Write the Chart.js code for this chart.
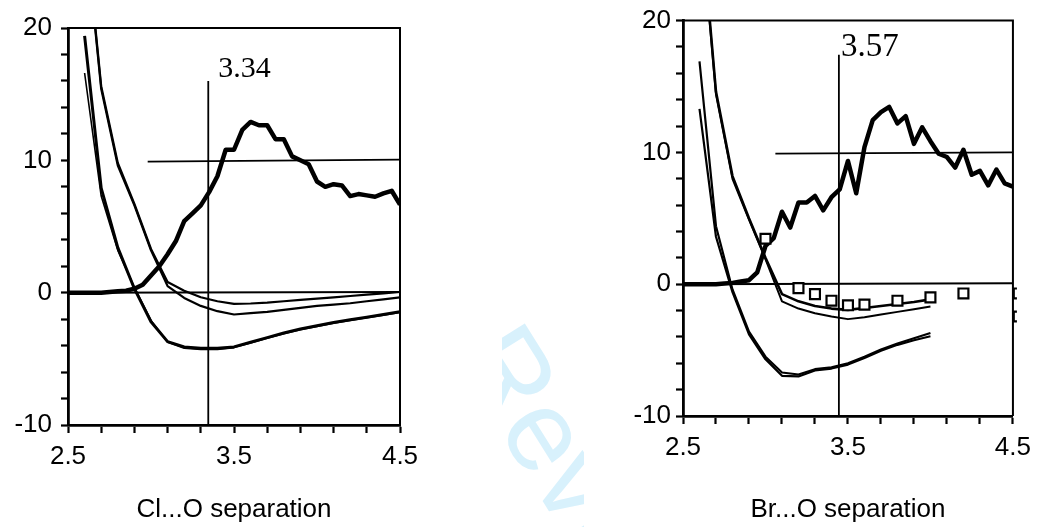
<!DOCTYPE html>
<html><head><meta charset="utf-8">
<script src="https://cdn.jsdelivr.net/npm/chart.js@4.4.1/dist/chart.umd.min.js"></script>
<style>
html,body{margin:0;padding:0;background:#fff;width:1039px;height:527px;overflow:hidden}
#c1{position:absolute;left:0;top:0}
#c2{position:absolute;left:520px;top:0}
#wm{position:absolute;left:502px;top:0;width:82px;height:527px;overflow:hidden}
#wm span{position:absolute;left:33px;top:306px;transform-origin:0 0;transform:rotate(58deg);font:115px "Liberation Sans",Arial,sans-serif;color:#d8f1fc;white-space:nowrap;line-height:1}
</style></head><body>
<div id="wm"><span>Review</span></div>
<canvas id="c1" width="520" height="527"></canvas>
<canvas id="c2" width="519" height="527"></canvas>
<script>
// ---------- data ----------
const xTickValues = [2.5,2.7,2.9,3.1,3.3,3.5,3.7,3.9,4.1,4.3,4.5];
const xLabelValues = [2.5,3.5,4.5];
const yTickValues = [-10,-8,-6,-4,-2,0,2,4,6,8,10,12,14,16,18,20];
const yLabelValues = [-10,0,10,20];

const xRdf = [2.50,2.55,2.60,2.65,2.70,2.75,2.80,2.85,2.90,2.95,3.00,3.05,3.10,3.15,3.20,3.25,3.30,3.35,3.40,3.45,3.50,3.55,3.60,3.65,3.70,3.75,3.80,3.85,3.90,3.95,4.00,4.05,4.10,4.15,4.20,4.25,4.30,4.35,4.40,4.45,4.50];
const clRdf = [0,0,0,0,0,0.05,0.1,0.15,0.3,0.6,1.3,2.0,2.9,3.9,5.4,6.0,6.6,7.6,8.8,10.8,10.8,12.3,12.9,12.65,12.65,11.6,11.6,10.3,10.0,9.7,8.4,8.0,8.2,8.1,7.3,7.45,7.35,7.25,7.5,7.7,6.65];
const brRdf = [0,0,0,0,0,0.05,0.1,0.2,0.3,0.9,2.9,3.5,5.5,4.3,6.2,6.2,6.7,5.6,6.6,7.2,9.35,6.9,10.4,12.45,13.05,13.45,12.2,12.75,10.65,11.9,10.85,9.9,9.65,8.85,10.2,8.3,8.6,7.5,8.7,7.65,7.4];

const xPotCl = [2.6,2.7,2.8,2.9,3.0,3.1,3.2,3.3,3.4,3.5,3.6,3.7,3.8,3.9,4.0,4.1,4.2,4.3,4.4,4.5];
const clPotA = [19.4,7.9,3.4,0.3,-2.2,-3.7,-4.1,-4.2,-4.2,-4.1,-3.75,-3.4,-3.05,-2.75,-2.5,-2.25,-2.05,-1.85,-1.65,-1.45];
const clPotB = [16.6,7.3,3.2,0.4,-2.1,-3.75,-4.2,-4.3,-4.3,-4.15,-3.8,-3.45,-3.1,-2.8,-2.55,-2.3,-2.1,-1.9,-1.7,-1.5];
const clPotC = [28.2,15.6,9.8,6.7,3.3,0.8,0.15,-0.35,-0.65,-0.85,-0.82,-0.75,-0.65,-0.55,-0.45,-0.35,-0.25,-0.15,-0.05,0.05];
const clPotD = [28.0,15.4,9.6,6.6,3.2,0.5,-0.4,-1.0,-1.4,-1.65,-1.55,-1.45,-1.3,-1.15,-1.0,-0.9,-0.8,-0.65,-0.5,-0.35];

const xPotBr = [2.6,2.7,2.8,2.9,3.0,3.1,3.2,3.3,3.4,3.5,3.6,3.7,3.8,3.9,4.0];
const brPotA = [16.9,4.4,-0.4,-3.6,-5.5,-6.7,-6.85,-6.45,-6.3,-6.0,-5.5,-4.95,-4.5,-4.1,-3.7];
const brPotB = [13.3,3.6,-0.6,-3.8,-5.7,-6.95,-7.0,-6.55,-6.4,-6.1,-5.6,-5.05,-4.6,-4.25,-3.95];
const brPotC = [29.0,14.6,8.2,5.0,2.0,-0.75,-1.3,-1.65,-1.85,-1.95,-1.8,-1.65,-1.5,-1.35,-1.15];
const brPotD = [28.8,14.4,8.0,4.9,1.9,-1.3,-1.85,-2.2,-2.45,-2.65,-2.5,-2.3,-2.1,-1.9,-1.7];

const brSqX = [3.0,3.2,3.3,3.4,3.5,3.6,3.8,4.0,4.2];
const brSqY = [3.45,-0.3,-0.75,-1.25,-1.6,-1.55,-1.25,-1.0,-0.7];
const brEdgeX = [4.535,4.535];
const brEdgeY = [-0.7,-2.45];

// reference lines
const clZeroX = [2.5,4.5], clZeroY = [0,0.05];
const clHX = [2.98,4.5], clHY = [9.9,10.05];
const clVX = [3.345,3.345], clVY = [-10,16];
const clMark = '3.34';
const brZeroX = [2.5,4.5], brZeroY = [0,0.08];
const brHX = [3.06,4.5], brHY = [9.9,10.0];
const brVX = [3.445,3.445], brVY = [-10,17.4];
const brMark = '3.57';

// ---------- helpers ----------
const pts = (xs, ys) => xs.map((x,i)=>({x:x, y:ys[i]}));
const near = (arr, v) => arr.some(a => Math.abs(a - v) < 1e-6);
const FONT = '"Liberation Sans", Arial, sans-serif';

const framePlugin = {
  id: 'frame',
  beforeDatasetsDraw(chart) {
    const a = chart.chartArea, ctx = chart.ctx;
    ctx.save();
    ctx.strokeStyle = '#000'; ctx.lineWidth = 2;
    ctx.beginPath();
    ctx.moveTo(a.left, a.top); ctx.lineTo(a.right, a.top); ctx.lineTo(a.right, a.bottom);
    ctx.stroke();
    ctx.restore();
  }
};
const markPlugin = {
  id: 'mark',
  afterDatasetsDraw(chart, args, o) {
    const ctx = chart.ctx;
    const px = chart.scales.x.getPixelForValue(o.x) + o.dx;
    const py = chart.scales.y.getPixelForValue(o.y) + o.dy;
    ctx.save();
    ctx.fillStyle = '#000';
    ctx.font = o.size + 'px "Liberation Serif", "Times New Roman", serif';
    ctx.textAlign = 'left'; ctx.textBaseline = 'alphabetic';
    ctx.fillText(o.text, px, py);
    ctx.restore();
  }
};

function line(data, w, clip) {
  return {data: data, showLine: true, borderColor: '#000', borderWidth: w, pointRadius: 0,
          tension: 0, fill: false, borderJoinStyle: 'round', clip: clip === undefined ? 0 : clip};
}

function makeChart(id, cfg) {
  return new Chart(document.getElementById(id), {
    type: 'scatter',
    data: {datasets: cfg.datasets},
    plugins: [framePlugin, markPlugin],
    options: {
      responsive: false, animation: false, devicePixelRatio: 1,
      layout: {padding: cfg.padding},
      plugins: {legend: {display: false}, tooltip: {enabled: false}, mark: cfg.mark},
      scales: {
        x: {
          type: 'linear', min: 2.5, max: 4.5,
          afterBuildTicks: s => { s.ticks = xTickValues.map(v => ({value: v})); },
          afterFit: s => { s.height = cfg.xH; },
          ticks: {autoSkip: false, maxRotation: 0, padding: 8, color: '#000',
                  font: {family: FONT, size: 26},
                  callback: v => near(xLabelValues, v) ? String(v) : ''},
          grid: {drawOnChartArea: false, drawTicks: true, tickLength: 8, tickWidth: 2.2, tickColor: '#000'},
          border: {display: true, color: '#000', width: 2.8},
          title: {display: true, text: cfg.title, color: '#000', font: {family: FONT, size: 26},
                  padding: {top: 0, bottom: 2}}
        },
        y: {
          type: 'linear', min: -10, max: 20,
          afterBuildTicks: s => { s.ticks = yTickValues.map(v => ({value: v})); },
          afterFit: s => { s.width = cfg.yW; },
          ticks: {autoSkip: false, padding: cfg.yPad, color: '#000',
                  font: {family: FONT, size: 26},
                  callback: v => near(yLabelValues, v) ? String(v) : ''},
          grid: {drawOnChartArea: false, drawTicks: true, tickLength: 7, tickWidth: 2.2, tickColor: '#000'},
          border: {display: true, color: '#000', width: 2.8}
        }
      }
    }
  });
}

makeChart('c1', {
  title: 'Cl...O separation', xH: 102, yW: 68, yPad: 9,
  padding: {left: 0, top: 28, right: 120, bottom: 0},
  mark: {text: clMark, x: clVX[0], y: clVY[1], dx: 10, dy: -4, size: 30},
  datasets: [
    line(pts(xRdf, clRdf), 4.5),
    line(pts(xPotCl, clPotA), 3),
    line(pts(xPotCl, clPotB), 1.6),
    line(pts(xPotCl, clPotC), 2.2),
    line(pts(xPotCl, clPotD), 2.2),
    line(pts(clZeroX, clZeroY), 2),
    line(pts(clHX, clHY), 1.8),
    line(pts(clVX, clVY), 1.8)
  ]
});

makeChart('c2', {
  title: 'Br...O separation', xH: 111, yW: 163, yPad: 5,
  padding: {left: 0, top: 16, right: 21, bottom: 0},
  mark: {text: brMark, x: brVX[0], y: brVY[1], dx: 2, dy: 1, size: 33},
  datasets: [
    {data: pts(brSqX, brSqY), showLine: false, pointStyle: 'rect', pointRadius: 7,
     backgroundColor: '#fff', borderColor: '#000', borderWidth: 2.2},
    {data: pts(brEdgeX, brEdgeY), showLine: false, pointStyle: 'rect', pointRadius: 7,
     backgroundColor: '#fff', borderColor: '#000', borderWidth: 2.2,
     clip: {left: 0, top: 0, right: 4, bottom: 0}},
    line(pts(xRdf, brRdf), 4.5),
    line(pts(xPotBr, brPotA), 2.2),
    line(pts(xPotBr, brPotB), 2.2),
    line(pts(xPotBr, brPotC), 2.6),
    line(pts(xPotBr, brPotD), 2),
    line(pts(brZeroX, brZeroY), 2),
    line(pts(brHX, brHY), 1.8),
    line(pts(brVX, brVY), 1.8)
  ]
});
</script>
</body></html>
